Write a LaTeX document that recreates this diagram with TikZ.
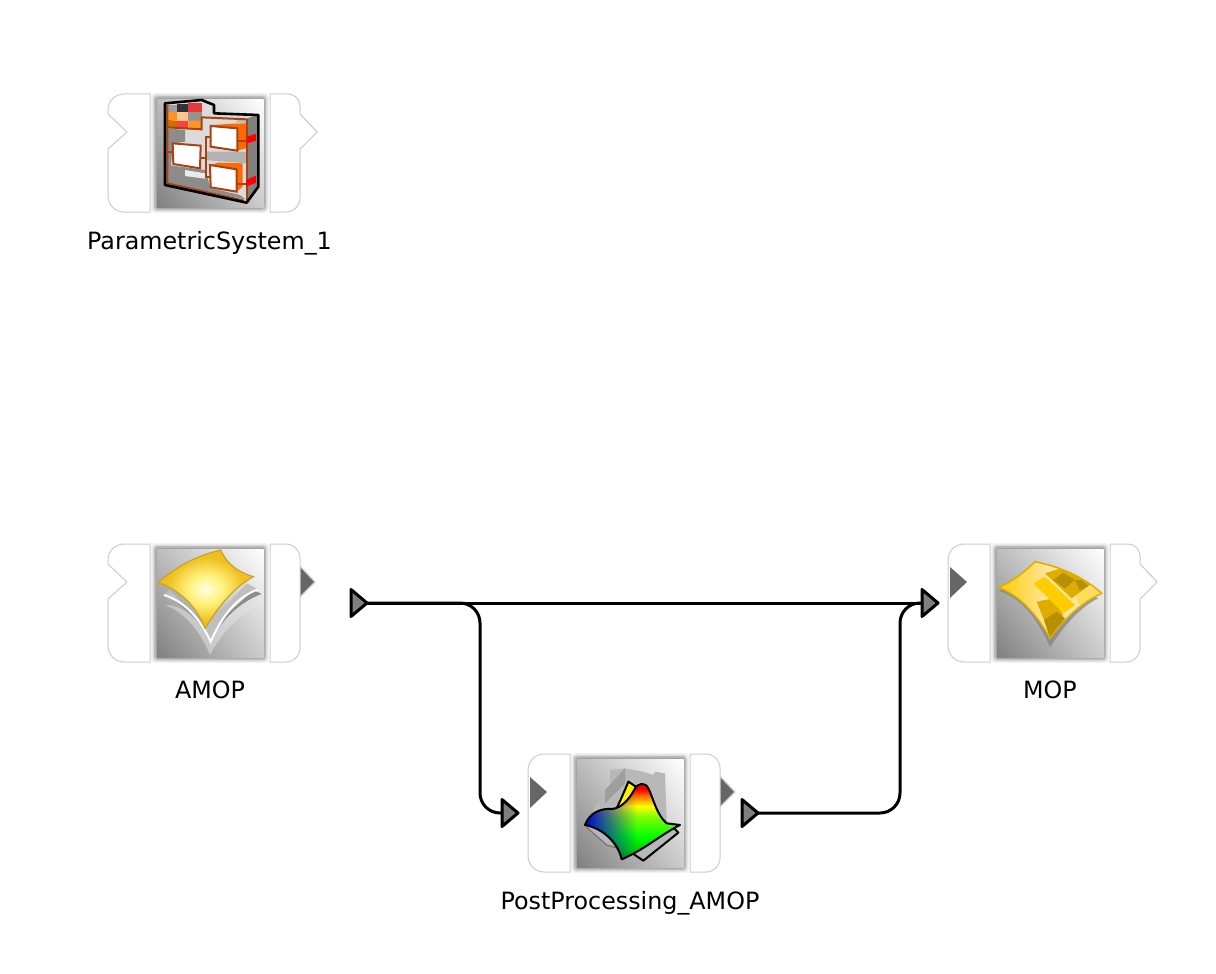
\documentclass[tikz,border=0pt]{standalone}
\usepackage{fontspec}
\setmainfont{DejaVu Sans}
\usetikzlibrary{positioning,arrows.meta,calc,shapes.geometric,fadings,shadings}
\definecolor{wingedge}{HTML}{CCCCCC}
\definecolor{portdark}{HTML}{666666}
\definecolor{portgray}{HTML}{808080}
\definecolor{brownln}{HTML}{A8430F}
\definecolor{orng}{HTML}{FF6A00}
\definecolor{sheetyel}{HTML}{EFC122}
\definecolor{gold}{HTML}{FFCC00}
\definecolor{darkgold}{HTML}{DCAE00}
\definecolor{deepgold}{HTML}{B88F00}
\definecolor{palegold}{HTML}{FFE69A}
\pgfdeclareverticalshading{heatmap}{100bp}{color(0bp)=(green!70!black); color(25bp)=(green!70!black); color(40bp)=(green); color(53bp)=(green!50!yellow); color(60bp)=(yellow); color(66bp)=(orange); color(71bp)=(red); color(75bp)=(red!85!black); color(100bp)=(red!85!black)}
\pgfdeclareradialshading{sheetglow}{\pgfpoint{0bp}{0bp}}{color(0bp)=(yellow!12!white); color(9bp)=(yellow!45!white!90!orange); color(20bp)=(sheetyel); color(50bp)=(sheetyel!92!black)}
\tikzset{
  wing/.style={draw=wingedge,line width=1pt,fill=white},
  tabtip/.style={draw=black!18,line width=1pt,fill=white},
  porttip/.style={draw=black!18,line width=1.2pt,fill=portdark},
  inport/.style={fill=portdark},
  port/.style={isosceles triangle,isosceles triangle stretches,shape border rotate=0,
    minimum width=27pt,minimum height=16pt,inner sep=0pt,outer sep=0pt,draw=black,fill=portgray,
    line width=3pt,line join=round},
  wire/.style={line width=3pt,rounded corners=20pt},
  lbl/.style={font=\fontsize{23.8}{28}\selectfont,text=black,inner sep=0pt},
  brownbox/.style={draw=brownln,line width=2pt,fill=white},
  brownline/.style={brownln,line width=2pt},
  % ---- block parts, origin at top left of the left wing ----
  midsquare/.pic={
    \fill[black!5,rounded corners=4pt] (43,-1) rectangle (161,119);
    \fill[black!14,rounded corners=4pt] (44.5,0.5) rectangle (159.5,117.5);
    \fill[black!26,rounded corners=3pt] (46,2) rectangle (158,116);
    \fill[black!36,rounded corners=3pt] (47.5,3.5) rectangle (156.5,114.5);
    \shade[lower left=black!50,upper right=white,upper left=black!26,lower right=black!20]
      (49,5) rectangle (155.5,113);
  },
  wingnotch/.pic={
    \draw[wing] (42,0) -- (16,0) arc[start angle=90,end angle=180,radius=16pt] -- (0,20)
      -- (19,38) -- (0,55) -- (0,102) arc[start angle=180,end angle=270,radius=16pt] -- (42,118) -- cycle;
  },
  wingplain/.pic={
    \draw[wing] (42,0) -- (16,0) arc[start angle=90,end angle=180,radius=16pt]
      -- (0,102) arc[start angle=180,end angle=270,radius=16pt] -- (42,118) -- cycle;
    \fill[inport] (2,23) -- (19,38) -- (2,54) -- cycle;
  },
  wingtab/.pic={
    \draw[tabtip] (192,20) -- (209,38) -- (192,55);
    \draw[wing] (162,0) -- (180,0) arc[start angle=90,end angle=0,radius=12pt] -- (192,20)
      -- (209,38) -- (192,55) -- (192,104) arc[start angle=0,end angle=-90,radius=14pt] -- (162,118) -- cycle;
  },
  wingport/.pic={
    \fill[porttip] (190,20) -- (207,38) -- (190,55) -- cycle;
    \draw[wing] (162,0) -- (178,0) arc[start angle=90,end angle=0,radius=14pt]
      -- (192,104) arc[start angle=0,end angle=-90,radius=14pt] -- (162,118) -- cycle;
  },
}

\begin{document}
\begin{tikzpicture}[x=1pt,y=-1pt]
  \useasboundingbox (0,0) rectangle (1216,974);
  \fill[white] (0,0) rectangle (1216,974);

  % blocks
  \pic at (108,94) {wingnotch};
  \pic at (108,94) {wingtab};
  \pic at (108,94) {midsquare};
  \pic at (108,544) {wingnotch};
  \pic at (108,544) {wingport};
  \pic at (108,544) {midsquare};
  \pic at (528,754) {wingplain};
  \pic at (528,754) {wingport};
  \pic at (528,754) {midsquare};
  \pic at (948,544) {wingplain};
  \pic at (948,544) {wingtab};
  \pic at (948,544) {midsquare};

  % parametric system icon
  \begin{scope}[shift={(90,80)},scale=1/3]
    \fill[black!14] (225,70) -- (335,60) -- (372,75) -- (372,100) -- (505,105) -- (505,320) -- (470,368) -- (225,315) -- cycle;
    \fill[black!50] (470,115) -- (505,105) -- (505,320) -- (470,368) -- cycle;
    \fill[black!45] (232,145) -- (285,150) -- (285,185) -- (248,190) -- (240,300) -- (232,310) -- cycle;
    \fill[black!45] (232,255) -- (345,270) -- (362,325) -- (450,345) -- (466,358) -- (232,312) -- cycle;
    \fill[black!8] (285,270) -- (345,280) -- (345,296) -- (285,288) -- cycle;
    \fill[black!30] (345,215) -- (470,215) -- (470,250) -- (345,240) -- cycle;
    \fill[orng] (365,135) -- (445,130) -- (468,128) -- (468,205) -- (442,212) -- cycle;
    \fill[orng] (362,255) -- (385,248) -- (458,250) -- (458,320) -- (440,335) -- cycle;
    \fill[black!25] (440,118) -- (468,118) -- (468,130) -- (440,132) -- cycle;
    % colour tiles
    \fill[black!38] (232,75) rectangle (262,97);
    \fill[black!80] (262,72) rectangle (295,97);
    \fill[red!75!white!90!black] (295,70) rectangle (335,97);
    \fill[orange!85!white] (232,97) rectangle (262,120);
    \fill[orange!45!white] (262,97) rectangle (295,122);
    \fill[black!42] (295,97) rectangle (335,122);
    \fill[orange!85!black] (232,120) -- (262,122) -- (262,145) -- (232,140) -- cycle;
    \fill[red!75!white] (262,122) -- (295,122) -- (295,145) -- (262,145) -- cycle;
    \fill[orange!85!white] (295,122) -- (335,122) -- (335,150) -- (295,147) -- cycle;
    % brown lines
    \draw[brownline] (232,142) -- (335,148) -- (335,112) -- (470,118);
    \draw[brownline] (470,118) -- (470,362);
    \draw[brownline] (232,75) -- (232,310) -- (462,362);
    \draw[brownline] (232,215) -- (248,215) (332,235) -- (350,235);
    \draw[brownline] (362,170) -- (348,170) -- (348,292) -- (362,292);
    \draw[brownline] (442,182) -- (470,182) (440,312) -- (470,312);
    \fill[red] (470,170) -- (498,162) -- (498,182) -- (470,190) -- cycle;
    \fill[red] (468,300) -- (498,287) -- (498,308) -- (468,320) -- cycle;
    % sub boxes
    \draw[brownbox] (362,138) -- (442,145) -- (442,212) -- (362,200) -- cycle;
    \draw[brownbox] (248,190) -- (332,197) -- (330,265) -- (250,252) -- cycle;
    \draw[brownbox] (360,255) -- (440,268) -- (440,335) -- (362,322) -- cycle;
    \draw[black,line width=2.6pt,line join=round] (225,70) -- (335,60) -- (372,75) -- (372,100) -- (505,105) -- (505,320) -- (470,368) -- (225,315) -- cycle;
  \end{scope}

  % amop icon
  \begin{scope}[shift={(90,530)},scale=1/3]
    \fill[black!10,opacity=0.5] (225,225) .. controls (280,245) and (330,300) .. (360,375) .. controls (400,300) and (460,240) .. (515,225) -- (515,195) .. controls (450,210) and (395,270) .. (362,340) .. controls (330,270) and (280,225) .. (225,225) -- cycle;
    \fill[black!45] (240,200) .. controls (290,220) and (335,270) .. (362,330) .. controls (395,270) and (450,215) .. (515,192) -- (490,180) -- (360,300) -- cycle;
    \fill[black!25] (222,195) -- (240,180) -- (345,290) -- (470,160) -- (505,178) .. controls (440,200) and (395,260) .. (362,335) .. controls (330,265) and (285,215) .. (222,195) -- cycle;
    \draw[white,line width=2pt] (222,195) .. controls (285,215) and (330,265) .. (362,335) .. controls (395,260) and (440,200) .. (505,178);
    \shade[shading=sheetglow,draw=sheetyel!85!black,line width=1.2pt]
      (205,158) .. controls (270,100) and (330,75) .. (392,60) .. controls (410,100) and (440,125) .. (490,140) .. controls (420,180) and (380,240) .. (345,295) .. controls (320,230) and (270,180) .. (205,158) -- cycle;
  \end{scope}

  % post processing icon
  \begin{scope}[shift={(490,740)},scale=1/3]
    \fill[black!28] (288,260) -- (320,190) -- (360,160) -- (360,90) -- (405,85) -- (460,95) -- (490,105) -- (495,95) -- (525,100) -- (530,240) -- (450,340) -- (350,315) -- cycle;
    \fill[black!38] (345,150) -- (405,85) -- (405,130) -- (345,190) -- cycle;
    \draw[black!55,line width=1.2pt] (288,260) -- (350,315) -- (420,335);
    \filldraw[fill=black!28,draw=black,line width=2pt,line join=round] (420,335) -- (460,362) -- (565,278) -- (550,262) -- cycle;
    \filldraw[fill=yellow,draw=black,line width=2pt,line join=round] (375,215) .. controls (390,185) and (405,150) .. (415,125) -- (445,145) -- (420,200) -- cycle;
    \begin{scope}
      \clip (285,255) .. controls (300,215) and (335,205) .. (365,207) .. controls (400,205) and (425,165) .. (435,145) .. controls (445,130) and (465,125) .. (475,145) .. controls (490,175) and (500,225) .. (530,250) -- (570,255) .. controls (510,285) and (470,325) .. (395,358) .. controls (385,310) and (340,265) .. (285,255) -- cycle;
      \shade[shading=heatmap] (285,130) rectangle (570,358);
      \fill[blue!85!black,path fading=east] (285,130) rectangle (440,358);
    \end{scope}
    \draw[black,line width=2pt,line join=round] (285,255) .. controls (300,215) and (335,205) .. (365,207) .. controls (400,205) and (425,165) .. (435,145) .. controls (445,130) and (465,125) .. (475,145) .. controls (490,175) and (500,225) .. (530,250) -- (570,255) .. controls (510,285) and (470,325) .. (395,358) .. controls (385,310) and (340,265) .. (285,255) -- cycle;
  \end{scope}

  % mop icon
  \begin{scope}[shift={(890,530)},scale=1/3]
    \fill[black!50,opacity=0.7] (325,182) .. controls (400,205) and (450,280) .. (480,352) .. controls (520,290) and (570,230) .. (625,205) -- (480,150) -- cycle;
    \begin{scope}
      \clip (325,172) .. controls (370,155) and (410,120) .. (435,95) .. controls (510,110) and (580,140) .. (635,190) .. controls (570,220) and (520,270) .. (480,325) .. controls (450,270) and (400,200) .. (325,172) -- cycle;
      \shade[left color=gold,right color=palegold] (325,95) rectangle (470,325);
      \fill[palegold] (470,90) rectangle (640,330);
      \fill[darkgold] (465,130) -- (530,110) -- (600,165) -- (545,205) -- cycle;
      \fill[deepgold] (490,150) -- (520,128) -- (555,150) -- (525,175) -- cycle;
      \fill[deepgold] (555,150) -- (575,150) -- (595,168) -- (570,182) -- cycle;
      \fill[palegold!60!gold] (555,198) -- (600,170) -- (635,190) -- (570,225) -- cycle;
      \fill[darkgold] (440,215) -- (490,205) -- (520,255) -- (470,290) -- cycle;
      \fill[deepgold] (462,270) -- (500,245) -- (525,265) -- (480,325) -- cycle;
      \fill[gold] (430,160) -- (465,140) -- (555,225) -- (520,250) -- cycle;
    \end{scope}
    \draw[darkgold,line width=1.5pt] (325,172) .. controls (370,155) and (410,120) .. (435,95) .. controls (510,110) and (580,140) .. (635,190) .. controls (570,220) and (520,270) .. (480,325) .. controls (450,270) and (400,200) .. (325,172) -- cycle;
  \end{scope}

  % labels
  \node[lbl] (lblsys) at (209.5,243) {ParametricSystem\_1};
  \node[lbl] (lblamop) at (210,690) {AMOP};
  \node[lbl] (lblpost) at (630,903) {PostProcessing\_AMOP};
  \node[lbl] (lblmop) at (1050,690) {MOP};

  % connector ports
  \coordinate (amopdrop) at (480,700);
  \coordinate (postrise) at (900,700);
  \node[port,anchor=apex] (amopout) at (367,603) {};
  \node[port,anchor=apex] (postin) at (518,813) {};
  \node[port,anchor=apex] (postout) at (758,813) {};
  \node[port,anchor=apex] (mopin) at (938,603) {};

  \draw[wire] (amopout.apex) -- (mopin.lower side);
  \draw[wire] (amopout.apex) -| (amopdrop) |- (postin.lower side);
  \draw[wire] (postout.apex) -| (postrise) |- (mopin.lower side);
\end{tikzpicture}
\end{document}
